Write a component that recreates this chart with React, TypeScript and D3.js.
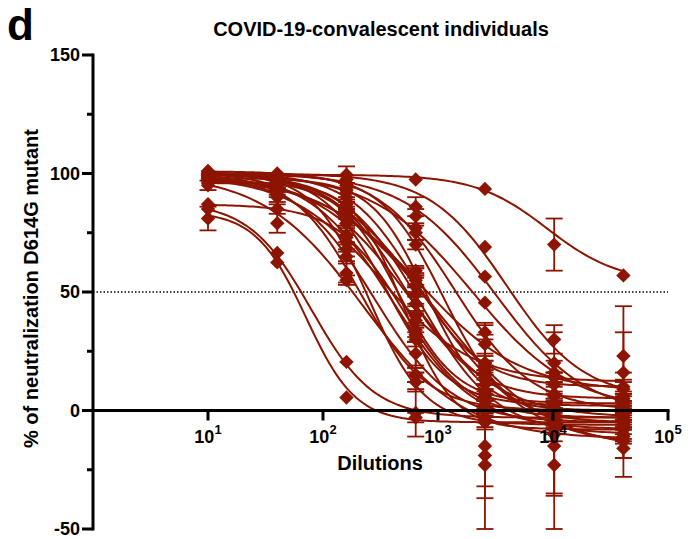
import React from "react";
import * as d3 from "d3";

// Serum dilutions (x) used for every individual
const dilutions = [10, 40, 160, 640, 2560, 10240, 40960];

// Fitted 4-parameter logistic curves, one entry per individual
const fitTop = [99.5, 100, 100, 100, 100, 99, 100, 101, 100, 99, 100, 100, 98, 97, 102, 100, 99, 100, 101, 96, 100, 87, 98, 100, 88, 84];
const fitBottom = [54, 5, -2, 0, 0, -5, 2, -8, 5, -3, 10, -10, 0, 3, -15, -17, 12, -5, 0, -8, -6, -3, 8, -12, -3, -5];
const fitLogIC50 = [3.95, 3.6, 3.5, 3.3, 2.32, 2.45, 2.55, 2.6, 2.7, 2.75, 2.8, 2.85, 2.9, 2.65, 2.95, 3.0, 2.5, 3.05, 3.15, 2.7, 2.4, 2.7, 2.85, 2.35, 1.9, 1.85];
const fitHill = [1.4, 1.3, 1.1, 1.0, 1.5, 1.3, 1.6, 1.2, 1.4, 1.1, 1.5, 1.3, 1.8, 1.7, 1.0, 0.9, 1.1, 1.6, 1.3, 2.0, 1.8, 1.5, 1.0, 1.0, 1.6, 2.0];

// Measured % neutralization (mean) per individual at each dilution
const neutralization: number[][] = [
  [99.5, 99, 99.5, 97.5, 93.5, 70, 57],
  [99, 98, 97.5, 86, 69, 30, 10],
  [98, 97, 95, 82, 56.5, 20, 4],
  [99, 97, 92, 77, 45.5, 16, 6],
  [99, 92, 58, 15, 2, -1, 0],
  [98, 90, 65, 24, -19, -4, -5],
  [100, 97, 79, 30, 6, 2, 2],
  [100, 95, 74, 32, -15, -6, -8],
  [99, 97, 84, 45, 14, 6, 5],
  [98, 94, 79, 45, 13, 1, -2],
  [100, 98, 90, 55, 20, 11, 16],
  [100, 97, 86, 49, 8, -15, -10],
  [98, 97, 93, 59, 11, 1, 0],
  [97, 95, 83, 38, 8, 3, 3],
  [101, 97, 84, 53, 16, -10, -13],
  [98, 94, 81, 53, 19, -4, -16],
  [97, 91, 71, 40, 20, 14, 23],
  [100, 99, 96, 70, 18, -2, -5],
  [101, 100, 95, 75, 33, 7, 1],
  [96, 95, 87, 32, -23, -8, -8],
  [99, 96, 68, 12, -5, -23, -6],
  [87, 85, 73, 34, 4, -2, -3],
  [97, 93, 81, 56, 28, 14, 9],
  [95, 79, 55, 15, -4, -10, -11],
  [85, 66.5, 20.5, -1, -3, -3, -3],
  [81, 62.5, 5.5, -3, -5, -5, -5],
];

// Error (SD) per individual at each dilution (0 = bar hidden behind marker)
const errors: number[][] = [
  [0, 0, 3.5, 0, 0, 11, 0],
  [0, 0, 0, 4, 0, 6, 3],
  [0, 0, 0, 3, 0, 13, 4],
  [0, 0, 2, 0, 0, 5, 10],
  [0, 2, 4, 3, 2, 2, 0],
  [0, 3, 2, 5, 18, 2, 3],
  [0, 0, 2, 3, 0, 0, 2],
  [0, 0, 0, 3, 17, 2, 12],
  [0, 0, 2, 4, 3, 0, 2],
  [0, 2, 0, 3, 4, 2, 3],
  [0, 0, 0, 3, 4, 3, 17],
  [0, 0, 2, 4, 3, 20, 3],
  [0, 0, 0, 2, 2, 0, 0],
  [0, 0, 2, 22, 3, 2, 0],
  [0, 0, 0, 3, 5, 26, 15],
  [0, 0, 3, 4, 4, 4, 4],
  [0, 3, 3, 4, 12, 2, 21],
  [0, 0, 0, 2, 3, 2, 2],
  [0, 0, 0, 3, 3, 3, 2],
  [0, 2, 2, 3, 27, 2, 2],
  [0, 2, 3, 4, 3, 27, 2],
  [0, 0, 3, 3, 3, 2, 2],
  [0, 2, 3, 4, 9, 2, 3],
  [2, 4, 2, 3, 3, 3, 3],
  [0, 0, 0, 10, 2, 0, 0],
  [5, 0, 0, 2, 0, 0, 0],
];

const yMajorTicks = [-50, 0, 50, 100, 150];
const yMinorTicks = [-25, 25, 75, 125];
const xTickExponents = [1, 2, 3, 4, 5];
const threshold = 50;

const COLOR = "#8C1400";
const FONT = "'Liberation Sans', Arial, Helvetica, sans-serif";

export default function App() {
  const W = 691;
  const H = 539;
  const x = d3.scaleLog().domain([1, 1e5]).range([93, 668]);
  const y = d3.scaleLinear().domain([-50, 150]).range([529, 55]);
  const x0 = x(1);
  const y0 = y(0);

  const logistic = (i: number, lx: number) =>
    fitBottom[i] + (fitTop[i] - fitBottom[i]) / (1 + Math.pow(10, fitHill[i] * (lx - fitLogIC50[i])));

  const lxMin = Math.log10(dilutions[0]);
  const lxMax = Math.log10(dilutions[dilutions.length - 1]);
  const samples = d3.range(0, 121).map((k) => lxMin + ((lxMax - lxMin) * k) / 120);
  const line = d3
    .line<[number, number]>()
    .x((d) => x(Math.pow(10, d[0])))
    .y((d) => y(d[1]));

  const diamond = (cx: number, cy: number, r: number) =>
    `M${cx},${cy - r}L${cx + r},${cy}L${cx},${cy + r}L${cx - r},${cy}Z`;

  const capHalf = 8.5;

  return (
    <div style={{ position: "absolute", left: 0, top: 0 }}>
      <svg width={W} height={H} style={{ display: "block", background: "#fff" }} fontFamily={FONT}>
        {/* Panel letter */}
        <text x={7} y={40} fontSize={44} fontWeight="bold" fill="#000">d</text>
        {/* Title */}
        <text x={381} y={36} fontSize={20} fontWeight="bold" textAnchor="middle" fill="#000">
          COVID-19-convalescent individuals
        </text>

        {/* threshold line */}
        <line x1={x0} x2={668} y1={y(threshold)} y2={y(threshold)} stroke="#000" strokeWidth={1.4} strokeDasharray="1.5,2" />

        {/* fitted curves */}
        <g fill="none" stroke={COLOR} strokeWidth={2}>
          {fitTop.map((_, i) => (
            <path key={i} d={line(samples.map((lx) => [lx, logistic(i, lx)] as [number, number])) || ""} />
          ))}
        </g>

        {/* error bars */}
        <g stroke={COLOR} strokeWidth={1.8}>
          {neutralization.map((vals, i) =>
            vals.map((v, j) => {
              const e = errors[i][j];
              if (!e) return null;
              const cx = x(dilutions[j]);
              const yt = y(v + e);
              const yb = y(v - e);
              return (
                <g key={`${i}-${j}`}>
                  <line x1={cx} x2={cx} y1={yt} y2={yb} />
                  <line x1={cx - capHalf} x2={cx + capHalf} y1={yt} y2={yt} />
                  <line x1={cx - capHalf} x2={cx + capHalf} y1={yb} y2={yb} />
                </g>
              );
            })
          )}
        </g>

        {/* markers */}
        <g fill={COLOR}>
          {neutralization.map((vals, i) =>
            vals.map((v, j) => <path key={`${i}-${j}`} d={diamond(x(dilutions[j]), y(v), 7.2)} />)
          )}
        </g>

        {/* Y axis */}
        <line x1={x0} x2={x0} y1={y(150)} y2={y(-50)} stroke="#000" strokeWidth={3} strokeLinecap="square" />
        {yMajorTicks.map((t) => (
          <g key={t}>
            <line x1={x0 - 11} x2={x0} y1={y(t)} y2={y(t)} stroke="#000" strokeWidth={3} />
            <text x={80} y={y(t)} dy="0.36em" fontSize={18} fontWeight="bold" textAnchor="end" fill="#000">
              {t}
            </text>
          </g>
        ))}
        {yMinorTicks.map((t) => (
          <line key={t} x1={x0 - 6} x2={x0} y1={y(t)} y2={y(t)} stroke="#000" strokeWidth={3} />
        ))}

        {/* X axis */}
        <line x1={x0} x2={668} y1={y0} y2={y0} stroke="#000" strokeWidth={3} strokeLinecap="square" />
        {xTickExponents.map((p) => (
          <g key={p}>
            <line x1={x(Math.pow(10, p))} x2={x(Math.pow(10, p))} y1={y0} y2={y0 + 10} stroke="#000" strokeWidth={3} />
            <text x={x(Math.pow(10, p))} y={443} fontSize={18} fontWeight="bold" textAnchor="middle" fill="#000">
              10
              <tspan dy={-9} fontSize={13}>{p}</tspan>
            </text>
          </g>
        ))}

        <text x={380} y={470} fontSize={20} fontWeight="bold" textAnchor="middle" fill="#000">
          Dilutions
        </text>
        <text
          transform="translate(38,288.5) rotate(-90)"
          fontSize={20}
          fontWeight="bold"
          textAnchor="middle"
          fill="#000"
        >
          % of neutralization D614G mutant
        </text>
      </svg>
    </div>
  );
}
